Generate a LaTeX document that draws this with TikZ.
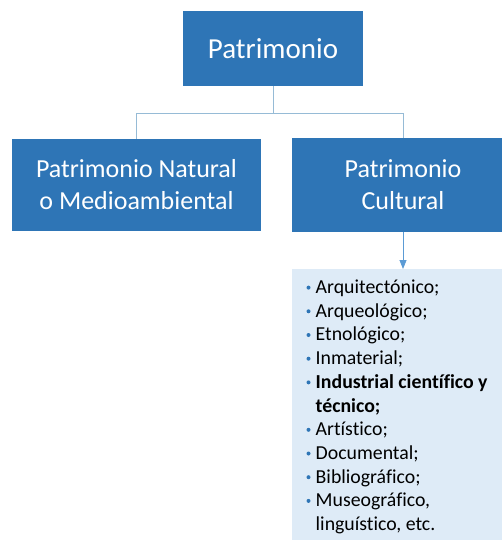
\documentclass[tikz,border=0pt]{standalone}
\usepackage{fontspec}
\setmainfont[Ligatures=CommonOff]{Carlito}
\usetikzlibrary{arrows.meta}

\definecolor{boxblue}{RGB}{46,117,182}
\definecolor{listblue}{RGB}{222,235,247}
\definecolor{linkblue}{RGB}{150,187,214}
\definecolor{arrowblue}{RGB}{91,155,213}

\tikzset{
    mainbox/.style={fill=boxblue, text=white, inner sep=0pt, align=center},
    link/.style={draw=linkblue, line width=0.8pt},
}

\begin{document}
\begin{tikzpicture}[x=1pt, y=-1pt]
    \def\Lx{502}
    \def\Ly{540}
    \def\itemskip{23.7}
    \useasboundingbox (0,0) rectangle (\Lx,\Ly);

    % Boxes
    \node[mainbox, minimum width=180pt, minimum height=75pt, font=\fontsize{29}{35}\selectfont] (patrimonio) at (273,48.5) {Patrimonio};
    \node[mainbox, minimum width=249pt, minimum height=92pt, font=\fontsize{26}{32}\selectfont] (natural) at (136.5,185) {Patrimonio Natural\\o Medioambiental};
    \node[mainbox, minimum width=222pt, minimum height=94pt, font=\fontsize{26}{32}\selectfont] (cultural) at (403,185) {Patrimonio\\Cultural};
    \node[fill=listblue, minimum width=222pt, minimum height=280pt, inner sep=0pt, anchor=north] (lista) at (403,269) {};

    % Connectors
    \draw[link] (patrimonio.south) -- ++(0,27) coordinate (split) -| (natural.north);
    \draw[link] (split) -| (cultural.north);
    \draw[draw=arrowblue, line width=0.8pt, -{Triangle[width=7pt,length=9pt]}] (cultural.south) -- (lista.north);

    % Items
    \foreach \b/\txt [count=\i from 0] in {1/Arquitectónico;, 1/Arqueológico;, 1/Etnológico;, 1/Inmaterial;, 1/\textbf{Industrial científico y}, 0/\textbf{técnico;}, 1/Artístico;, 1/Documental;, 1/Bibliográfico;, 1/{Museográfico,}, 0/{linguístico, etc.}} {
        \node[anchor=base west, inner sep=0pt, font=\fontsize{19.8}{23}\selectfont] (item\i) at (315.5,293.5+\itemskip*\i) {\txt};
        \ifnum\b=1
            \fill[boxblue] (308.5,287.6+\itemskip*\i) circle (2pt);
        \fi
    }
\end{tikzpicture}
\end{document}
